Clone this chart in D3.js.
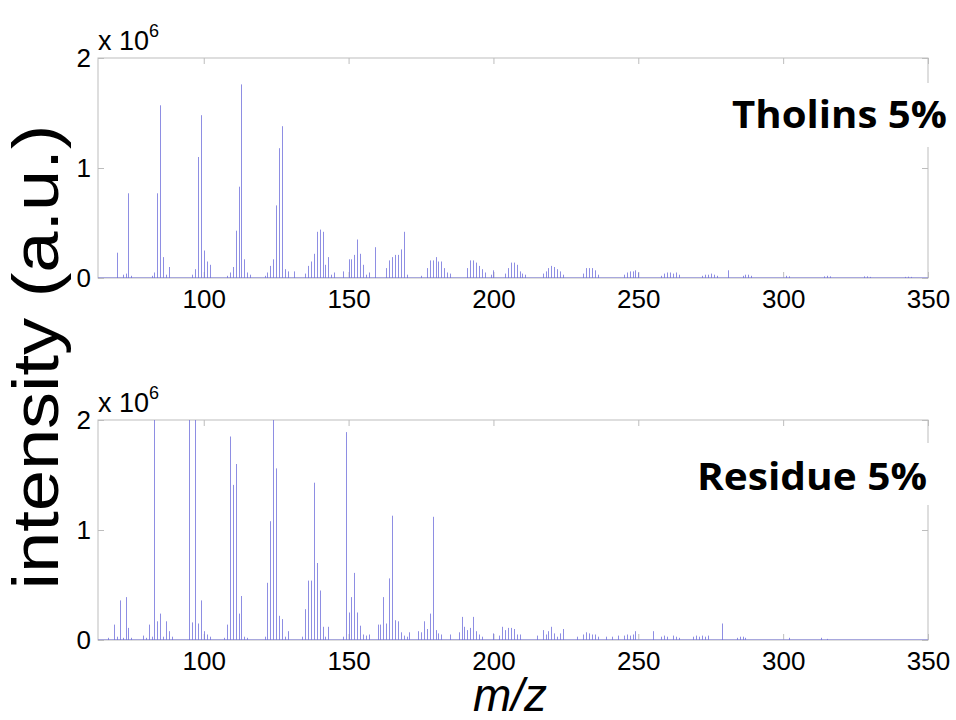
<!DOCTYPE html>
<html>
<head>
<meta charset="utf-8">
<script src="https://cdn.jsdelivr.net/npm/d3@7"></script>
<style>
  html, body { margin: 0; padding: 0; background: #fff; }
  svg { display: block; }
</style>
</head>
<body>
<svg id="chart" width="956" height="720"></svg>
<script>
// ---------- DATA (intensity in units of 1e6) ----------
const tholinsMz = [70,72,73,74,75,82,83,84,85,86,87,88,96,97,98,99,100,101,102,108,109,110,111,112,113,114,115,116,
  121,122,123,124,125,126,127,128,129,131,135,136,137,138,139,140,141,142,143,144,145,148,150,151,152,153,154,155,156,157,159,
  163,164,165,166,167,168,169,170,175,177,178,179,180,181,182,183,184,185,191,192,193,194,195,196,197,199,200,
  204,205,206,207,208,209,210,211,217,218,219,220,221,222,223,224,231,232,233,234,235,236,245,246,247,248,249,250,
  258,259,260,261,262,263,264,272,273,274,275,276,277,281,286,287,288,289,301,302,314,315,316,328,329,330,342,343,344];
const tholinsI = [0.23,0.03,0.04,0.77,0.02,0.02,0.05,0.77,1.57,0.19,0.03,0.10,0.03,0.08,1.10,1.48,0.25,0.15,0.12,0.02,0.05,0.10,0.43,0.83,1.76,0.17,0.05,0.03,
  0.02,0.05,0.11,0.17,0.66,1.18,1.38,0.08,0.06,0.06,0.04,0.11,0.15,0.22,0.42,0.44,0.42,0.12,0.19,0.03,0.05,0.06,0.17,0.17,0.21,0.35,0.22,0.12,0.03,0.05,0.28,
  0.09,0.16,0.19,0.21,0.21,0.26,0.42,0.03,0.02,0.09,0.16,0.16,0.19,0.15,0.15,0.09,0.05,0.04,0.09,0.16,0.16,0.14,0.11,0.08,0.05,0.03,0.07,
  0.04,0.09,0.14,0.14,0.12,0.06,0.04,0.03,0.04,0.06,0.09,0.11,0.10,0.08,0.06,0.03,0.04,0.09,0.09,0.09,0.07,0.03,0.03,0.05,0.06,0.06,0.07,0.05,
  0.02,0.04,0.05,0.05,0.04,0.05,0.03,0.02,0.03,0.03,0.04,0.03,0.02,0.07,0.02,0.03,0.03,0.02,0.02,0.015,0.015,0.02,0.015,0.015,0.015,0.01,0.01,0.012,0.01];

const residueMz = [67,69,70,71,72,73,74,75,79,80,81,82,83,84,85,86,87,88,89,95,96,97,98,99,100,101,102,107,108,109,110,111,112,113,114,115,
  121,122,123,124,125,126,127,128,129,134,135,136,137,138,139,140,141,142,143,148,149,150,151,152,153,154,155,156,157,
  160,161,162,163,164,165,166,167,168,169,170,171,174,175,176,177,178,179,180,181,182,185,188,189,190,191,192,193,194,195,196,
  200,202,203,204,205,206,207,208,209,215,217,218,219,220,221,222,223,224,229,231,232,233,234,235,236,239,241,243,245,246,247,248,249,
  255,258,259,260,262,263,264,269,270,271,272,273,274,279,284,285,286,287,302,313,315];
const residueI = [0.02,0.14,0.03,0.36,0.02,0.39,0.11,0.02,0.04,0.02,0.14,0.03,2.6,0.17,0.24,0.03,0.17,0.08,0.03,2.6,0.16,2.6,0.15,0.36,0.08,0.05,0.03,0.02,0.14,1.85,1.41,1.60,0.24,0.40,0.03,0.02,
  0.03,0.52,1.08,2.5,1.56,0.22,0.19,0.03,0.08,0.03,0.28,0.54,0.54,1.43,0.70,0.45,0.12,0.03,0.12,0.03,1.89,0.25,0.39,0.61,0.25,0.13,0.05,0.04,0.05,
  0.14,0.14,0.39,0.15,0.56,1.13,0.18,0.17,0.07,0.04,0.03,0.07,0.08,0.07,0.17,0.10,0.24,1.12,0.09,0.06,0.05,0.05,0.07,0.21,0.12,0.09,0.11,0.21,0.08,0.05,0.03,
  0.06,0.04,0.12,0.09,0.11,0.11,0.10,0.05,0.05,0.04,0.09,0.05,0.08,0.12,0.06,0.03,0.06,0.10,0.03,0.05,0.07,0.06,0.05,0.05,0.03,0.03,0.03,0.04,0.04,0.05,0.04,0.05,0.08,
  0.08,0.03,0.04,0.03,0.04,0.03,0.02,0.03,0.04,0.03,0.04,0.03,0.04,0.15,0.02,0.03,0.03,0.02,0.02,0.02,0.01];

const xTicks = [100,150,200,250,300,350];
const yTicks = [0,1,2];
const xDomain = [63.5,350];
const yDomain = [0,2];
const panelLabels = ["Tholins 5%","Residue 5%"];

// ---------- LAYOUT ----------
const svg = d3.select("#chart");
const left = 98, right = 928;
const panels = [
  {top:58, bottom:278, mz:tholinsMz, inten:tholinsI, label:panelLabels[0],
   box:{x:727,y:83,w:229,h:64}, lx:947, ly:128, lw:215},
  {top:420, bottom:640, mz:residueMz, inten:residueI, label:panelLabels[1],
   box:{x:690,y:443,w:266,h:62}, lx:927, ly:490, lw:230}
];
const x = d3.scaleLinear().domain(xDomain).range([left,right]);
const axisGray = "#bdbdbd";
const blue = "#7272dc";
const font = "'Liberation Sans', Arial, Helvetica, sans-serif";

panels.forEach((p,i) => {
  const y = d3.scaleLinear().domain(yDomain).range([p.bottom,p.top]);
  const g = svg.append("g");
  const clipId = "clip"+i;
  svg.append("defs").append("clipPath").attr("id",clipId)
    .append("rect").attr("x",left).attr("y",p.top).attr("width",right-left).attr("height",p.bottom-p.top);

  // frame
  g.append("rect").attr("x",left).attr("y",p.top).attr("width",right-left).attr("height",p.bottom-p.top)
    .attr("fill","none").attr("stroke",axisGray).attr("stroke-width",1);

  // axes
  const styleAxis = sel => {
    sel.select(".domain").remove();
    sel.selectAll(".tick line").attr("stroke",axisGray);
    sel.selectAll(".tick text").attr("fill","#000").attr("font-family",font).attr("font-size",26);
  };
  g.append("g").attr("transform",`translate(0,${p.bottom})`)
    .call(d3.axisBottom(x).tickValues(xTicks).tickFormat(d3.format("d")).tickSizeInner(-6).tickSizeOuter(0).tickPadding(12))
    .call(styleAxis);
  g.append("g").attr("transform",`translate(0,${p.top})`)
    .call(d3.axisTop(x).tickValues(xTicks).tickFormat("").tickSizeInner(-6).tickSizeOuter(0))
    .call(styleAxis);
  g.append("g").attr("transform",`translate(${left},0)`)
    .call(d3.axisLeft(y).tickValues(yTicks).tickFormat(d3.format("d")).tickSizeInner(-6).tickSizeOuter(0).tickPadding(7))
    .call(styleAxis);
  g.append("g").attr("transform",`translate(${right},0)`)
    .call(d3.axisRight(y).tickValues(yTicks).tickFormat("").tickSizeInner(-6).tickSizeOuter(0))
    .call(styleAxis);

  // data: baseline + stems
  const dg = g.append("g").attr("clip-path",`url(#${clipId})`);
  dg.append("line").attr("x1",x(xDomain[0])).attr("x2",x(xDomain[1]))
    .attr("y1",y(0)).attr("y2",y(0)).attr("stroke",blue).attr("stroke-width",1.2);
  const pts = p.mz.map((m,k)=>({m, v:p.inten[k]}));
  dg.selectAll("line.stem").data(pts).enter().append("line").attr("class","stem")
    .attr("x1",d=>Math.round(x(d.m))+0.5).attr("x2",d=>Math.round(x(d.m))+0.5)
    .attr("y1",y(0)).attr("y2",d=>y(d.v))
    .attr("stroke",blue).attr("stroke-width",1).attr("stroke-opacity",0.8);

  // x 10^6
  const t = g.append("text").attr("x",left).attr("y",p.top-8)
    .attr("font-family",font).attr("font-size",27).attr("fill","#000");
  t.append("tspan").text("x 10");
  t.append("tspan").attr("dy",-13).attr("font-size",18).text("6");

  // label with white box
  g.append("rect").attr("x",p.box.x).attr("y",p.box.y).attr("width",p.box.w).attr("height",p.box.h).attr("fill","#fff");
  g.append("text").attr("x",p.lx - p.lw).attr("y",p.ly).attr("text-anchor","start")
    .attr("font-family","'Open Sans', 'Noto Sans', sans-serif").attr("font-weight","bold")
    .attr("font-size",38).attr("textLength",p.lw).attr("lengthAdjust","spacingAndGlyphs")
    .attr("fill","#000").text(p.label);
});

// y label
svg.append("text")
  .attr("transform","translate(58,357) rotate(-90)")
  .attr("text-anchor","middle")
  .attr("font-family",font).attr("font-size",64)
  .attr("textLength",465).attr("lengthAdjust","spacingAndGlyphs")
  .attr("fill","#000").text("intensity (a.u.)");

// x label
svg.append("text").attr("x",510).attr("y",711).attr("text-anchor","middle")
  .attr("font-family",font).attr("font-style","italic").attr("font-size",46)
  .attr("fill","#000").text("m/z");
</script>
</body>
</html>
